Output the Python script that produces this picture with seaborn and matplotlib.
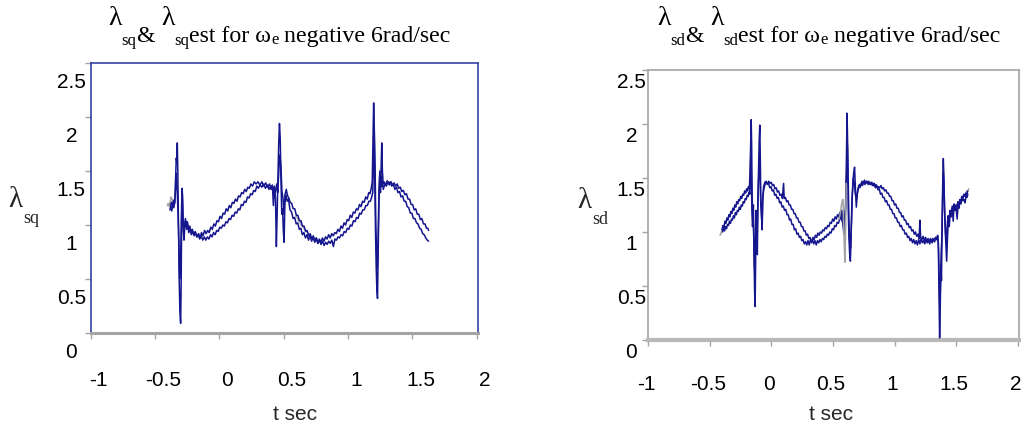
import matplotlib
matplotlib.use("Agg")
import matplotlib.pyplot as plt
import matplotlib.transforms as mtransforms
import seaborn as sns

# ---------------- data: lambda_sq (left panel) ----------------
t_sq = [-0.385, -0.378, -0.370, -0.362, -0.354, -0.346, -0.340, -0.335, -0.331, -0.327,
        -0.323, -0.318, -0.313, -0.307, -0.301, -0.297, -0.293, -0.289, -0.285, -0.280,
        -0.275, -0.269, -0.262, -0.254, -0.246, -0.238, -0.228, -0.218, -0.207, -0.196,
        -0.185, -0.173, -0.161, -0.150, -0.139, -0.127, -0.115, -0.103, -0.091, -0.079,
        -0.067, -0.055, -0.043, -0.031, -0.019, -0.007, 0.005, 0.017, 0.029, 0.041,
        0.053, 0.065, 0.077, 0.089, 0.101, 0.113, 0.125, 0.137, 0.149, 0.161,
        0.173, 0.185, 0.197, 0.209, 0.221, 0.233, 0.245, 0.258, 0.271, 0.285,
        0.300, 0.315, 0.330, 0.345, 0.360, 0.375, 0.390, 0.402, 0.412, 0.420,
        0.428, 0.436, 0.443, 0.449, 0.455, 0.461, 0.467, 0.473, 0.479, 0.485,
        0.491, 0.497, 0.503, 0.509, 0.517, 0.527, 0.537, 0.549, 0.561, 0.573,
        0.585, 0.597, 0.609, 0.621, 0.633, 0.645, 0.657, 0.669, 0.681, 0.693,
        0.705, 0.717, 0.729, 0.741, 0.753, 0.765, 0.777, 0.789, 0.801, 0.813,
        0.825, 0.837, 0.849, 0.861, 0.873, 0.885, 0.897, 0.909, 0.921, 0.933,
        0.945, 0.957, 0.969, 0.981, 0.993, 1.005, 1.017, 1.029, 1.041, 1.053,
        1.065, 1.077, 1.089, 1.101, 1.113, 1.125, 1.137, 1.149, 1.161, 1.171,
        1.180, 1.188, 1.194, 1.199, 1.204, 1.209, 1.214, 1.219, 1.224, 1.229,
        1.234, 1.240, 1.246, 1.252, 1.257, 1.262, 1.267, 1.273, 1.280, 1.292,
        1.304, 1.316, 1.328, 1.340, 1.352, 1.364, 1.376, 1.388, 1.400, 1.412,
        1.424, 1.436, 1.448, 1.460, 1.472, 1.484, 1.496, 1.508, 1.520, 1.532,
        1.544, 1.556, 1.568, 1.580, 1.592, 1.604, 1.616, 1.626]
lam_sq = [1.14, 1.17, 1.13, 1.19, 1.16, 1.22, 1.45, 1.62, 1.58, 1.76,
          1.50, 1.05, 0.55, 0.20, 0.09, 0.45, 1.05, 1.34, 1.22, 0.95,
          0.86, 0.98, 1.04, 0.96, 1.00, 0.93, 0.96, 0.91, 0.94, 0.90,
          0.93, 0.89, 0.92, 0.88, 0.93, 0.90, 0.95, 0.92, 0.95, 0.93,
          0.98, 0.96, 1.01, 0.99, 1.04, 1.03, 1.08, 1.06, 1.11, 1.10,
          1.15, 1.13, 1.18, 1.16, 1.21, 1.20, 1.24, 1.22, 1.27, 1.26,
          1.30, 1.29, 1.33, 1.31, 1.35, 1.34, 1.38, 1.36, 1.40, 1.38,
          1.40, 1.37, 1.40, 1.36, 1.39, 1.35, 1.38, 1.33, 1.37, 1.18,
          1.36, 1.25, 0.80, 1.10, 1.45, 1.75, 1.94, 1.80, 1.40, 1.10,
          1.15, 0.95, 0.84, 1.20, 1.28, 1.22, 1.24, 1.14, 1.12, 1.06,
          1.07, 1.01, 1.02, 0.96, 0.97, 0.91, 0.93, 0.88, 0.91, 0.86,
          0.90, 0.85, 0.89, 0.84, 0.88, 0.83, 0.87, 0.84, 0.88, 0.85,
          0.89, 0.87, 0.91, 0.88, 0.92, 0.90, 0.93, 0.92, 0.96, 0.94,
          0.99, 0.97, 1.02, 1.00, 1.05, 1.04, 1.09, 1.07, 1.12, 1.11,
          1.15, 1.14, 1.19, 1.17, 1.22, 1.21, 1.26, 1.24, 1.30, 1.29,
          1.34, 1.40, 1.80, 2.13, 1.90, 1.30, 0.90, 0.60, 0.40, 0.32,
          0.70, 1.20, 1.45, 1.30, 1.55, 1.76, 1.50, 1.38, 1.40, 1.37,
          1.41, 1.38, 1.40, 1.36, 1.38, 1.33, 1.35, 1.30, 1.31, 1.26,
          1.27, 1.22, 1.22, 1.17, 1.16, 1.11, 1.11, 1.06, 1.06, 1.02,
          1.01, 0.97, 0.96, 0.92, 0.91, 0.88, 0.86, 0.85]

t_sq_est = [-0.380, -0.372, -0.364, -0.356, -0.348, -0.342, -0.337, -0.332, -0.327, -0.321,
            -0.315, -0.309, -0.303, -0.298, -0.293, -0.288, -0.283, -0.277, -0.271, -0.264,
            -0.256, -0.248, -0.240, -0.230, -0.220, -0.210, -0.199, -0.188, -0.176, -0.165,
            -0.153, -0.141, -0.129, -0.117, -0.105, -0.093, -0.081, -0.069, -0.057, -0.045,
            -0.033, -0.021, -0.009, 0.003, 0.015, 0.027, 0.039, 0.051, 0.063, 0.075,
            0.087, 0.099, 0.111, 0.123, 0.135, 0.147, 0.159, 0.171, 0.183, 0.195,
            0.207, 0.219, 0.231, 0.243, 0.255, 0.267, 0.279, 0.291, 0.303, 0.316,
            0.330, 0.344, 0.358, 0.372, 0.386, 0.400, 0.414, 0.426, 0.436, 0.446,
            0.454, 0.462, 0.470, 0.478, 0.486, 0.494, 0.502, 0.510, 0.520, 0.530,
            0.540, 0.550, 0.562, 0.574, 0.586, 0.598, 0.610, 0.622, 0.634, 0.646,
            0.658, 0.670, 0.682, 0.694, 0.706, 0.718, 0.730, 0.742, 0.754, 0.766,
            0.778, 0.790, 0.802, 0.814, 0.826, 0.838, 0.850, 0.862, 0.874, 0.886,
            0.898, 0.910, 0.922, 0.934, 0.946, 0.958, 0.970, 0.982, 0.994, 1.006,
            1.018, 1.030, 1.042, 1.054, 1.066, 1.078, 1.090, 1.102, 1.114, 1.126,
            1.138, 1.150, 1.162, 1.174, 1.184, 1.192, 1.198, 1.204, 1.210, 1.216,
            1.222, 1.228, 1.234, 1.240, 1.247, 1.254, 1.260, 1.266, 1.274, 1.286,
            1.298, 1.310, 1.322, 1.334, 1.346, 1.358, 1.370, 1.382, 1.394, 1.406,
            1.418, 1.430, 1.442, 1.454, 1.466, 1.478, 1.490, 1.502, 1.514, 1.526,
            1.538, 1.550, 1.562, 1.574, 1.586, 1.598, 1.610, 1.620, 1.626]
lam_sq_est = [1.18, 1.21, 1.17, 1.23, 1.20, 1.30, 1.48, 1.40, 1.30, 1.10,
              0.85, 0.50, 0.60, 0.90, 1.20, 1.28, 1.05, 0.92, 1.00, 1.06,
              0.99, 1.03, 0.96, 0.99, 0.94, 0.96, 0.91, 0.94, 0.89, 0.91,
              0.87, 0.90, 0.86, 0.89, 0.86, 0.89, 0.87, 0.91, 0.89, 0.93,
              0.91, 0.95, 0.94, 0.98, 0.97, 1.00, 0.99, 1.03, 1.02, 1.06,
              1.05, 1.09, 1.08, 1.12, 1.11, 1.15, 1.14, 1.19, 1.18, 1.22,
              1.21, 1.26, 1.25, 1.29, 1.28, 1.32, 1.31, 1.36, 1.34, 1.37,
              1.35, 1.38, 1.34, 1.37, 1.33, 1.36, 1.33, 1.35, 1.30, 1.38,
              1.30, 1.50, 1.65, 1.55, 1.32, 1.25, 1.10, 1.28, 1.33, 1.27,
              1.25, 1.21, 1.20, 1.15, 1.15, 1.09, 1.09, 1.04, 1.04, 0.99,
              0.99, 0.94, 0.95, 0.90, 0.92, 0.87, 0.90, 0.85, 0.88, 0.83,
              0.86, 0.82, 0.85, 0.81, 0.84, 0.82, 0.85, 0.83, 0.86, 0.80,
              0.87, 0.86, 0.89, 0.88, 0.91, 0.90, 0.94, 0.93, 0.97, 0.96,
              1.00, 0.99, 1.04, 1.03, 1.07, 1.06, 1.11, 1.10, 1.14, 1.14,
              1.18, 1.18, 1.22, 1.22, 1.26, 1.30, 1.60, 1.85, 1.55, 1.00,
              0.75, 0.60, 0.90, 1.30, 1.50, 1.35, 1.45, 1.40, 1.33, 1.38,
              1.36, 1.40, 1.37, 1.40, 1.37, 1.39, 1.36, 1.38, 1.34, 1.35,
              1.31, 1.32, 1.28, 1.29, 1.24, 1.24, 1.19, 1.19, 1.14, 1.15,
              1.10, 1.10, 1.05, 1.06, 1.01, 1.01, 0.97, 0.97, 0.95]

# short stretches of the measured trace that show past the two estimates
t_sq_ref_a = [-0.405, -0.398, -0.390, -0.382, -0.375, -0.368, -0.360, -0.354]
lam_sq_ref_a = [1.18, 1.20, 1.17, 1.22, 1.26, 1.24, 1.21, 1.18]
t_sq_ref_b = [0.595, 0.605, 0.615, 0.625, 0.635, 0.645, 0.655, 0.665, 0.675, 0.685]
lam_sq_ref_b = [1.08, 1.07, 1.04, 1.03, 1.00, 0.99, 0.97, 0.96, 0.94, 0.93]

# ---------------- data: lambda_sd (right panel) ----------------
t_sd = [-0.400, -0.392, -0.384, -0.376, -0.368, -0.360, -0.352, -0.344, -0.336, -0.328,
        -0.320, -0.312, -0.304, -0.296, -0.288, -0.280, -0.272, -0.264, -0.256, -0.248,
        -0.240, -0.232, -0.224, -0.216, -0.208, -0.200, -0.192, -0.185, -0.178, -0.172,
        -0.167, -0.163, -0.159, -0.155, -0.150, -0.145, -0.140, -0.135, -0.131, -0.127,
        -0.123, -0.118, -0.113, -0.108, -0.103, -0.098, -0.093, -0.089, -0.085, -0.080,
        -0.075, -0.070, -0.062, -0.052, -0.042, -0.032, -0.022, -0.012, -0.002, 0.008,
        0.018, 0.028, 0.038, 0.048, 0.058, 0.068, 0.078, 0.088, 0.098, 0.108,
        0.118, 0.128, 0.138, 0.148, 0.158, 0.168, 0.178, 0.188, 0.198, 0.208,
        0.218, 0.228, 0.238, 0.248, 0.258, 0.268, 0.278, 0.288, 0.298, 0.308,
        0.318, 0.328, 0.338, 0.348, 0.358, 0.368, 0.378, 0.388, 0.398, 0.408,
        0.418, 0.428, 0.438, 0.448, 0.458, 0.468, 0.478, 0.488, 0.498, 0.508,
        0.518, 0.528, 0.538, 0.548, 0.556, 0.564, 0.572, 0.580, 0.588, 0.596,
        0.604, 0.610, 0.615, 0.620, 0.625, 0.630, 0.636, 0.642, 0.648, 0.655,
        0.662, 0.669, 0.676, 0.683, 0.690, 0.698, 0.706, 0.716, 0.726, 0.736,
        0.746, 0.756, 0.766, 0.776, 0.786, 0.796, 0.806, 0.816, 0.826, 0.836,
        0.846, 0.856, 0.866, 0.876, 0.886, 0.896, 0.906, 0.916, 0.926, 0.936,
        0.946, 0.956, 0.966, 0.976, 0.986, 0.996, 1.006, 1.016, 1.026, 1.036,
        1.046, 1.056, 1.066, 1.076, 1.086, 1.096, 1.106, 1.116, 1.126, 1.136,
        1.146, 1.156, 1.166, 1.176, 1.186, 1.196, 1.206, 1.216, 1.226, 1.236,
        1.246, 1.256, 1.266, 1.276, 1.286, 1.296, 1.306, 1.316, 1.326, 1.336,
        1.344, 1.350, 1.356, 1.361, 1.366, 1.371, 1.376, 1.381, 1.386, 1.391,
        1.396, 1.401, 1.406, 1.412, 1.418, 1.423, 1.430, 1.437, 1.444, 1.452,
        1.460, 1.468, 1.476, 1.484, 1.492, 1.500, 1.508, 1.516, 1.524, 1.532,
        1.540, 1.548, 1.556, 1.564, 1.572, 1.580, 1.588, 1.595]
lam_sd = [1.02, 1.06, 1.04, 1.10, 1.08, 1.13, 1.11, 1.16, 1.14, 1.19,
          1.17, 1.22, 1.20, 1.25, 1.23, 1.28, 1.26, 1.30, 1.29, 1.33,
          1.31, 1.35, 1.34, 1.38, 1.36, 1.40, 1.38, 1.42, 1.40, 1.55,
          1.85, 2.04, 1.80, 1.35, 1.10, 1.25, 0.80, 0.45, 0.31, 0.70,
          1.20, 1.10, 0.79, 1.30, 1.60, 1.85, 1.99, 1.70, 1.30, 1.16,
          1.05, 1.30, 1.42, 1.46, 1.47, 1.44, 1.45, 1.41, 1.42, 1.38,
          1.39, 1.34, 1.35, 1.31, 1.32, 1.27, 1.28, 1.23, 1.24, 1.20,
          1.21, 1.16, 1.16, 1.11, 1.12, 1.07, 1.07, 1.02, 1.03, 0.98,
          0.99, 0.95, 0.96, 0.92, 0.93, 0.89, 0.91, 0.88, 0.92, 0.88,
          0.93, 0.90, 0.95, 0.93, 0.97, 0.95, 0.99, 0.97, 1.00, 0.99,
          1.02, 1.01, 1.04, 1.03, 1.06, 1.05, 1.09, 1.08, 1.12, 1.10,
          1.14, 1.12, 1.16, 1.14, 1.18, 1.12, 1.20, 1.08, 1.00, 0.96,
          1.30, 1.70, 2.10, 1.80, 1.20, 0.95, 0.80, 0.73, 1.00, 1.30,
          1.45, 1.55, 1.60, 1.40, 1.23, 1.35, 1.40, 1.44, 1.43, 1.47,
          1.45, 1.48, 1.45, 1.47, 1.44, 1.46, 1.44, 1.46, 1.43, 1.45,
          1.41, 1.43, 1.39, 1.40, 1.35, 1.36, 1.32, 1.32, 1.28, 1.29,
          1.25, 1.25, 1.21, 1.21, 1.17, 1.17, 1.13, 1.13, 1.09, 1.09,
          1.05, 1.06, 1.02, 1.02, 0.98, 0.99, 0.95, 0.96, 0.92, 0.94,
          0.90, 0.93, 0.89, 0.92, 0.88, 0.93, 0.89, 0.94, 0.90, 0.92,
          0.89, 0.93, 0.90, 0.92, 0.89, 0.93, 0.90, 0.93, 0.91, 0.95,
          0.93, 0.96, 0.85, 0.40, 0.02, 0.30, 0.70, 0.55, 1.00, 1.45,
          1.68, 1.50, 1.20, 1.00, 0.85, 0.73, 0.95, 1.11, 1.05, 1.18,
          1.14, 1.24, 1.10, 1.26, 1.20, 1.22, 1.12, 1.25, 1.22, 1.30,
          1.26, 1.32, 1.29, 1.30, 1.27, 1.33, 1.32, 1.35]

t_sd_est = [-0.395, -0.387, -0.379, -0.371, -0.363, -0.355, -0.347, -0.339, -0.331, -0.323,
            -0.315, -0.307, -0.299, -0.291, -0.283, -0.275, -0.267, -0.259, -0.251, -0.243,
            -0.235, -0.227, -0.219, -0.211, -0.203, -0.195, -0.187, -0.180, -0.174, -0.169,
            -0.165, -0.161, -0.157, -0.152, -0.147, -0.142, -0.137, -0.133, -0.129, -0.124,
            -0.119, -0.114, -0.109, -0.104, -0.099, -0.094, -0.090, -0.085, -0.080, -0.074,
            -0.068, -0.060, -0.050, -0.040, -0.030, -0.020, -0.010, 0.000, 0.010, 0.020,
            0.030, 0.040, 0.050, 0.060, 0.070, 0.080, 0.090, 0.100, 0.105, 0.115,
            0.125, 0.135, 0.145, 0.155, 0.165, 0.175, 0.185, 0.195, 0.205, 0.215,
            0.225, 0.235, 0.245, 0.255, 0.265, 0.275, 0.285, 0.295, 0.305, 0.315,
            0.325, 0.335, 0.345, 0.355, 0.365, 0.375, 0.385, 0.395, 0.405, 0.415,
            0.425, 0.435, 0.445, 0.455, 0.465, 0.475, 0.485, 0.495, 0.505, 0.515,
            0.525, 0.535, 0.545, 0.555, 0.565, 0.575, 0.585, 0.595, 0.605, 0.612,
            0.618, 0.624, 0.630, 0.637, 0.644, 0.650, 0.658, 0.666, 0.674, 0.682,
            0.692, 0.700, 0.710, 0.720, 0.730, 0.740, 0.750, 0.760, 0.770, 0.780,
            0.790, 0.800, 0.810, 0.820, 0.830, 0.840, 0.850, 0.860, 0.870, 0.880,
            0.890, 0.900, 0.910, 0.920, 0.930, 0.940, 0.950, 0.960, 0.970, 0.980,
            0.990, 1.000, 1.010, 1.020, 1.030, 1.040, 1.050, 1.060, 1.070, 1.080,
            1.090, 1.100, 1.110, 1.120, 1.130, 1.140, 1.150, 1.160, 1.170, 1.180,
            1.190, 1.200, 1.206, 1.212, 1.222, 1.232, 1.242, 1.252, 1.262, 1.272,
            1.282, 1.292, 1.302, 1.312, 1.322, 1.332, 1.342, 1.350, 1.356, 1.362,
            1.367, 1.372, 1.378, 1.384, 1.390, 1.396, 1.402, 1.408, 1.414, 1.420,
            1.427, 1.434, 1.442, 1.450, 1.458, 1.466, 1.474, 1.482, 1.490, 1.498,
            1.506, 1.514, 1.522, 1.530, 1.538, 1.546, 1.554, 1.562, 1.570, 1.578,
            1.586, 1.593]
lam_sd_est = [1.00, 1.03, 1.01, 1.05, 1.03, 1.07, 1.06, 1.10, 1.08, 1.12,
              1.11, 1.15, 1.13, 1.18, 1.16, 1.20, 1.19, 1.23, 1.21, 1.25,
              1.24, 1.28, 1.27, 1.31, 1.30, 1.34, 1.33, 1.37, 1.35, 1.60,
              1.75, 1.50, 1.20, 1.05, 1.15, 0.95, 0.70, 0.60, 0.90, 1.15,
              1.05, 0.95, 1.25, 1.45, 1.60, 1.70, 1.50, 1.25, 1.20, 1.02,
              1.32, 1.40, 1.44, 1.46, 1.45, 1.47, 1.45, 1.46, 1.43, 1.44,
              1.40, 1.41, 1.37, 1.38, 1.34, 1.35, 1.31, 1.45, 1.31, 1.32,
              1.28, 1.29, 1.25, 1.25, 1.21, 1.21, 1.17, 1.17, 1.13, 1.13,
              1.09, 1.09, 1.05, 1.05, 1.01, 1.01, 0.97, 0.98, 0.94, 0.95,
              0.91, 0.93, 0.89, 0.92, 0.88, 0.92, 0.90, 0.93, 0.91, 0.94,
              0.93, 0.96, 0.95, 0.98, 0.97, 1.00, 0.99, 1.03, 1.02, 1.06,
              1.05, 1.09, 1.08, 1.12, 1.15, 1.10, 1.20, 1.05, 1.25, 1.55,
              1.80, 1.50, 1.10, 0.90, 0.85, 1.05, 1.35, 1.50, 1.45, 1.35,
              1.30, 1.38, 1.43, 1.41, 1.45, 1.43, 1.46, 1.44, 1.47, 1.45,
              1.47, 1.44, 1.46, 1.43, 1.45, 1.42, 1.44, 1.41, 1.42, 1.41,
              1.43, 1.40, 1.41, 1.38, 1.39, 1.36, 1.36, 1.33, 1.33, 1.29,
              1.29, 1.25, 1.26, 1.22, 1.22, 1.18, 1.18, 1.14, 1.15, 1.11,
              1.11, 1.07, 1.08, 1.04, 1.05, 1.01, 1.02, 0.98, 1.00, 0.96,
              0.98, 0.94, 1.11, 0.95, 0.93, 0.96, 0.92, 0.95, 0.91, 0.94,
              0.91, 0.94, 0.91, 0.94, 0.92, 0.95, 0.93, 0.97, 0.90, 0.55,
              0.30, 0.45, 0.80, 0.95, 1.30, 1.55, 1.40, 1.15, 1.00, 0.90,
              1.05, 1.15, 1.10, 1.20, 1.17, 1.22, 1.18, 1.24, 1.20, 1.25,
              1.23, 1.28, 1.25, 1.30, 1.28, 1.33, 1.30, 1.35, 1.33, 1.36,
              1.34, 1.38]

t_sd_ref_a = [-0.415, -0.408, -0.400, -0.393]
lam_sd_ref_a = [0.97, 0.99, 1.01, 1.03]
t_sd_ref_b = [0.550, 0.558, 0.566, 0.574, 0.582, 0.588, 0.593, 0.598, 0.603, 0.608]
lam_sd_ref_b = [1.12, 1.16, 1.22, 1.28, 1.30, 1.05, 0.85, 0.72, 1.00, 1.45]
t_sd_ref_c = [1.578, 1.586, 1.594, 1.602]
lam_sd_ref_c = [1.36, 1.38, 1.37, 1.40]

# ---------------- axis ticks ----------------
x_ticks = [-1, -0.5, 0, 0.5, 1, 1.5, 2]
x_tick_labels = ["-1", "-0.5", "0", "0.5", "1", "1.5", "2"]
y_ticks = [0, 0.5, 1, 1.5, 2, 2.5]
y_tick_labels = ["0", "0.5", "1", "1.5", "2", "2.5"]

# ---------------- styling ----------------
W, H = 1027, 433
sns.set_style("white")
plt.rcParams["font.family"] = ["Liberation Sans", "DejaVu Sans"]

NAVY = "#15168e"
GREY = "#a4a4a4"
FRAME_BLUE = "#3442a6"
SERIF = ["Liberation Serif", "DejaVu Serif"]

fig = plt.figure(figsize=(W / 100, H / 100), dpi=100)


def px_rect(x0, y0, x1, y1):
    return [x0 / W, 1 - y1 / H, (x1 - x0) / W, (y1 - y0) / H]


def shift(artist, dx, dy):
    """Move an artist by dx, dy pixels (dy downward)."""
    artist.set_transform(artist.get_transform()
                         + mtransforms.ScaledTranslation(dx / 100, -dy / 100, fig.dpi_scale_trans))


def trace(ax, t, y, color, lw=1.1, z=3):
    sns.lineplot(x=t, y=y, ax=ax, color=color, linewidth=lw, sort=False,
                 estimator=None, legend=False, zorder=z)


def setup(ax, frame_color, bottom_color, bottom_lw, xdx, xpad, ypad, ydy):
    ax.set_xlim(-1, 2.01)
    ax.set_ylim(0, 2.5)
    ax.set_xticks(x_ticks)
    ax.set_xticklabels(x_tick_labels)
    ax.set_yticks(y_ticks)
    ax.set_yticklabels(y_tick_labels)
    ax.set_xlabel("")
    ax.set_ylabel("")
    ax.grid(False)
    ax.tick_params(axis="both", direction="out", length=4, width=1, color=GREY,
                   labelsize=15, labelcolor="black", left=True, bottom=True)
    ax.tick_params(axis="x", pad=xpad)
    ax.tick_params(axis="y", pad=ypad)
    for side in ("left", "top", "right"):
        ax.spines[side].set_visible(True)
        ax.spines[side].set_color(frame_color)
        ax.spines[side].set_linewidth(1.2)
    ax.spines["bottom"].set_visible(True)
    ax.spines["bottom"].set_color(bottom_color)
    ax.spines["bottom"].set_linewidth(bottom_lw)
    for lab in ax.get_xticklabels():
        shift(lab, xdx, 0)
    for lab in ax.get_yticklabels():
        lab.set_horizontalalignment("center")
        shift(lab, 0, ydy)


def runs(x0, items):
    """Write text runs one after another from pixel x0; each item is
    (text, fontsize, baseline y in pixels from the top)."""
    renderer = fig.canvas.get_renderer()
    x = x0
    for s, size, yb in items:
        t = fig.text(x / W, 1 - yb / H, s, fontsize=size, family=SERIF,
                     ha="left", va="baseline", color="black")
        x += t.get_window_extent(renderer).width


# ---------------- left panel ----------------
ax_q = fig.add_axes(px_rect(90.7, 63, 478, 333))
trace(ax_q, t_sq_ref_a, lam_sq_ref_a, GREY, z=2)
trace(ax_q, t_sq_ref_b, lam_sq_ref_b, GREY, z=2)
trace(ax_q, t_sq_est, lam_sq_est, NAVY)
trace(ax_q, t_sq, lam_sq, NAVY)
setup(ax_q, FRAME_BLUE, GREY, 2.2, 8, 23, 10, 17)

# ---------------- right panel ----------------
ax_d = fig.add_axes(px_rect(648, 70, 1019, 340))
trace(ax_d, t_sd_ref_a, lam_sd_ref_a, GREY, z=2)
trace(ax_d, t_sd_ref_c, lam_sd_ref_c, GREY, z=2)
trace(ax_d, t_sd_est, lam_sd_est, NAVY)
trace(ax_d, t_sd, lam_sd, NAVY)
trace(ax_d, t_sd_ref_b, lam_sd_ref_b, GREY, z=4)
setup(ax_d, GREY, "#b8b8b8", 3.0, -2, 21, 8, 10)

# ---------------- titles and axis labels ----------------
runs(108, [("λ", 20, 25), ("sq", 12, 45), ("&", 17.2, 42), (" ", 17.2, 42),
           ("λ", 20, 25), ("sq", 12, 45), ("est for ω", 17.2, 42), ("e", 12, 44),
           (" negative 6rad/sec", 17.2, 42)])
runs(657, [("λ", 20, 25), ("sd", 12, 45), ("&", 17.2, 42), (" ", 17.2, 42),
           ("λ", 20, 25), ("sd", 12, 45), ("est for ω", 17.2, 42), ("e", 12, 44),
           (" negative 6rad/sec", 17.2, 42)])

fig.text(8 / W, 1 - 207 / H, "λ", fontsize=21, family=SERIF, ha="left", va="baseline")
fig.text(23 / W, 1 - 223 / H, "sq", fontsize=13, family=SERIF, ha="left", va="baseline")
fig.text(577 / W, 1 - 208 / H, "λ", fontsize=21, family=SERIF, ha="left", va="baseline")
fig.text(592 / W, 1 - 224 / H, "sd", fontsize=13, family=SERIF, ha="left", va="baseline")

fig.text(295 / W, 1 - 415 / H, "t sec", fontsize=15, ha="center", va="center")
fig.text(831 / W, 1 - 415 / H, "t sec", fontsize=15, ha="center", va="center")

fig.savefig("out.png", dpi=100)
